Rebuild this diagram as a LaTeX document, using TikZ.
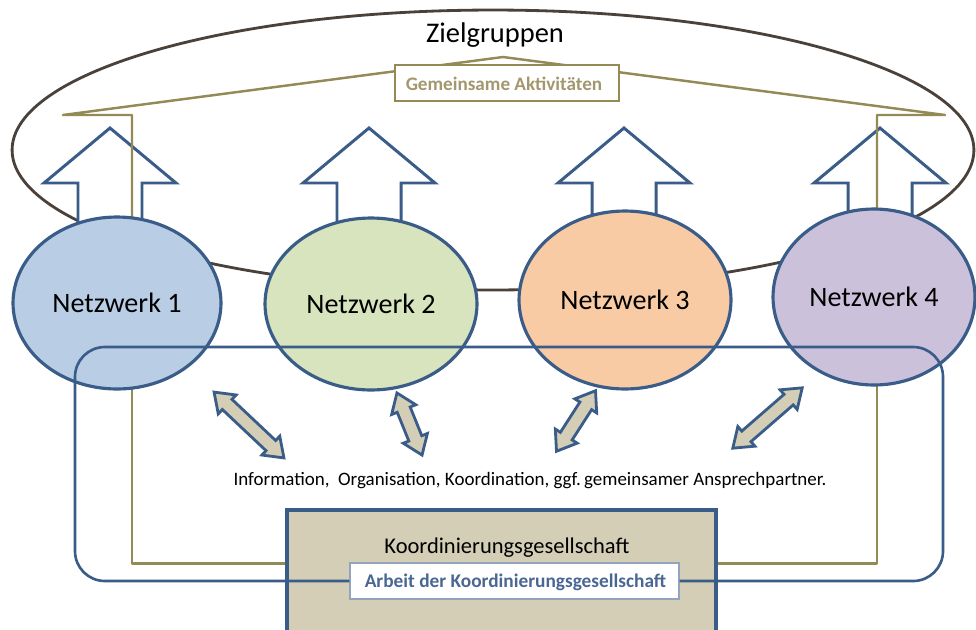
\documentclass[tikz,border=0pt]{standalone}
\usepackage{fontspec}
\setmainfont{Carlito}
\usetikzlibrary{shapes.geometric,calc}
\definecolor{netblue}{HTML}{3A5C89}
\definecolor{goldline}{HTML}{948A56}
\definecolor{goldtext}{HTML}{A3976E}
\definecolor{zgline}{HTML}{4A413B}
\definecolor{fillA}{HTML}{B9CDE5}
\definecolor{fillB}{HTML}{D7E4BD}
\definecolor{fillC}{HTML}{F9CBA4}
\definecolor{fillD}{HTML}{CCC1DA}
\definecolor{tan}{HTML}{D4CEB6}
\definecolor{worktext}{HTML}{4A6794}
\pgfdeclarelayer{back}
\pgfdeclarelayer{mid}
\pgfdeclarelayer{front}
\pgfsetlayers{back,mid,main,front}
\begin{document}
\begin{tikzpicture}[x=0.02cm,y=-0.02cm,
  net/.style={ellipse,draw=netblue,line width=1.8pt,inner sep=0pt,
    font=\fontsize{16}{19}\selectfont},
  outarrow/.style={draw=netblue,fill=white,line width=1.7pt,line join=miter},
  xarrow/.style={draw=netblue,fill=tan,line width=1.6pt,line join=miter},
  goldlink/.style={draw=goldline,line width=1.4pt,line join=round},
  bluelink/.style={draw=netblue,line width=1.5pt},
  labelbox/.style={draw,fill=white,line width=0.7pt,inner sep=0pt}]
\useasboundingbox (0,0) rectangle (976,629);
\clip (0,0) rectangle (976,629);

% network nodes
\node[net,fill=fillA,minimum width=4.16cm,minimum height=3.44cm] (n1) at (117,303) {Netzwerk 1};
\node[net,fill=fillB,minimum width=4.24cm,minimum height=3.44cm] (n2) at (371,304) {Netzwerk 2};
\node[net,fill=fillC,minimum width=4.24cm,minimum height=3.56cm] (n3) at (625,300) {Netzwerk 3};
\node[net,fill=fillD,minimum width=4.04cm,minimum height=3.52cm] (n4) at (874,297) {Netzwerk 4};

% coordination company
\node[draw=netblue,fill=tan,line width=1.9pt,minimum width=8.58cm,minimum height=2.8cm,inner sep=0pt] (kbox) at (501.5,580) {};
\node[anchor=base,font=\fontsize{12.8}{15}\selectfont] (ktext) at (507,553) {Koordinierungsgesellschaft};
\node[labelbox,draw=netblue!55,minimum width=6.58cm,minimum height=0.72cm] (arbeit) at (514.5,581) {};
\node[anchor=base,text=worktext,font=\bfseries\fontsize{11}{13}\selectfont] (atext) at (515.5,587) {Arbeit der Koordinierungsgesellschaft};

% joint activities
\node[labelbox,draw=goldline,minimum width=4.48cm,minimum height=0.72cm] (gem) at (507,83) {};
\node[anchor=base,text=goldtext,font=\bfseries\fontsize{10.9}{13}\selectfont] (gtext) at (504,90) {Gemeinsame Aktivitäten};

% target groups label
\node[anchor=base,font=\fontsize{16.2}{19}\selectfont] (ztext) at (495,42) {Zielgruppen};

% exchange label
\node[anchor=base,font=\fontsize{10.8}{13}\selectfont] (info) at (530,485) {Information,\ \ Organisation, Koordination, ggf.\,gemeinsamer Ansprechpartner.};

% exchange double arrows
\foreach \mx/\my/\ang/\len in {249/425/-43.3/96, 409.5/424/-68/67, 576/421/-122.8/72, 767.5/418/-139/92}{
  \begin{scope}[shift={(\mx,\my)},rotate=\ang]
    \pgfmathsetmacro{\h}{\len/2}
    \draw[xarrow] (-\h,0) -- ({-\h+18},13) -- ({-\h+18},7) -- ({\h-18},7) -- ({\h-18},13)
      -- (\h,0) -- ({\h-18},-13) -- ({\h-18},-7) -- ({-\h+18},-7) -- ({-\h+18},-13) -- cycle;
  \end{scope}
}

\begin{pgfonlayer}{back}
  % target groups ring
  \node[ellipse,draw=zgline,line width=1.6pt,inner sep=0pt,minimum width=19.24cm,minimum height=5.6cm] (zg) at (493,150) {};
  % outward arrows
  \foreach \cx in {110,369,624,880}{
    \draw[outarrow] ({\cx-32},240) -- ({\cx-32},183) -- ({\cx-66},183) -- (\cx,128)
      -- ({\cx+66},183) -- ({\cx+32},183) -- ({\cx+32},240) -- cycle;
  }
\end{pgfonlayer}

\begin{pgfonlayer}{mid}
  \coordinate (gl) at (63,115);
  \coordinate (glk) at (132,115);
  \coordinate (gpk) at (503,57);
  \coordinate (grk) at (877,115);
  \coordinate (gr) at (945,115);
  \draw[goldlink] ($(n1.center)+(15,0)$) -- (glk) -- (gl) -- (gpk) -- (gr) -- (grk) -- ($(n4.center)+(3,0)$);
  \draw[goldlink] ($(n1.center)+(15,0)$) |- ($(kbox.north west)+(0,55)$);
  \draw[goldlink] ($(n4.center)+(3,0)$) |- ($(kbox.north east)+(0,55)$);
\end{pgfonlayer}

\begin{pgfonlayer}{front}
  \draw[bluelink,rounded corners=17pt] (arbeit.west) -- (75,581) -- (75,347) -- (943,347) -- (943,581) -- (arbeit.east);
\end{pgfonlayer}
\end{tikzpicture}
\end{document}
